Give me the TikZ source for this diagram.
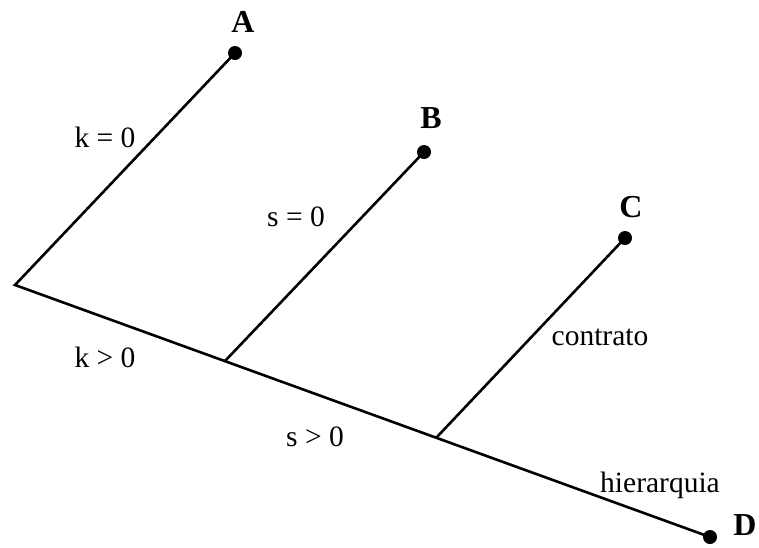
\documentclass[tikz,border=0pt]{standalone}
\usepackage{fontspec}
\setmainfont{Liberation Serif}
\begin{document}
\begin{tikzpicture}[x=1pt,y=-1pt,
  edge/.style={line width=2.6pt},
  leaf/.style={circle,fill=black,inner sep=0pt,minimum size=14pt},
  lbl/.style={font=\fontsize{29.5}{32}\selectfont,inner sep=0pt},
  letterlbl/.style={font=\fontsize{32}{35}\selectfont\bfseries,inner sep=0pt}]
\useasboundingbox (0,0) rectangle (759,547);
\coordinate (r) at (15,285);
\coordinate (jb) at (225,361);
\coordinate (jc) at (436,438);
\node[leaf] (a) at (235,53) {};
\node[leaf] (b) at (424,152) {};
\node[leaf] (c) at (625,238) {};
\node[leaf] (d) at (710,537) {};
\draw[edge] (a.center) -- (r) -- (d.center);
\draw[edge] (jb) -- (b.center);
\draw[edge] (jc) -- (c.center);
\node[letterlbl] (la) at (243,22) {A};
\node[letterlbl] (lb) at (431,118) {B};
\node[letterlbl] (lc) at (631,207) {C};
\node[letterlbl] (ld) at (745,525) {D};
\node[lbl] (k0) at (105,137) {k = 0};
\node[lbl] (s0) at (296,217) {s = 0};
\node[lbl] (ct) at (600,337) {contrato};
\node[lbl] (kg) at (105,357) {k > 0};
\node[lbl] (sg) at (315,437) {s > 0};
\node[lbl] (hq) at (660,485) {hierarquia};
\end{tikzpicture}
\end{document}
